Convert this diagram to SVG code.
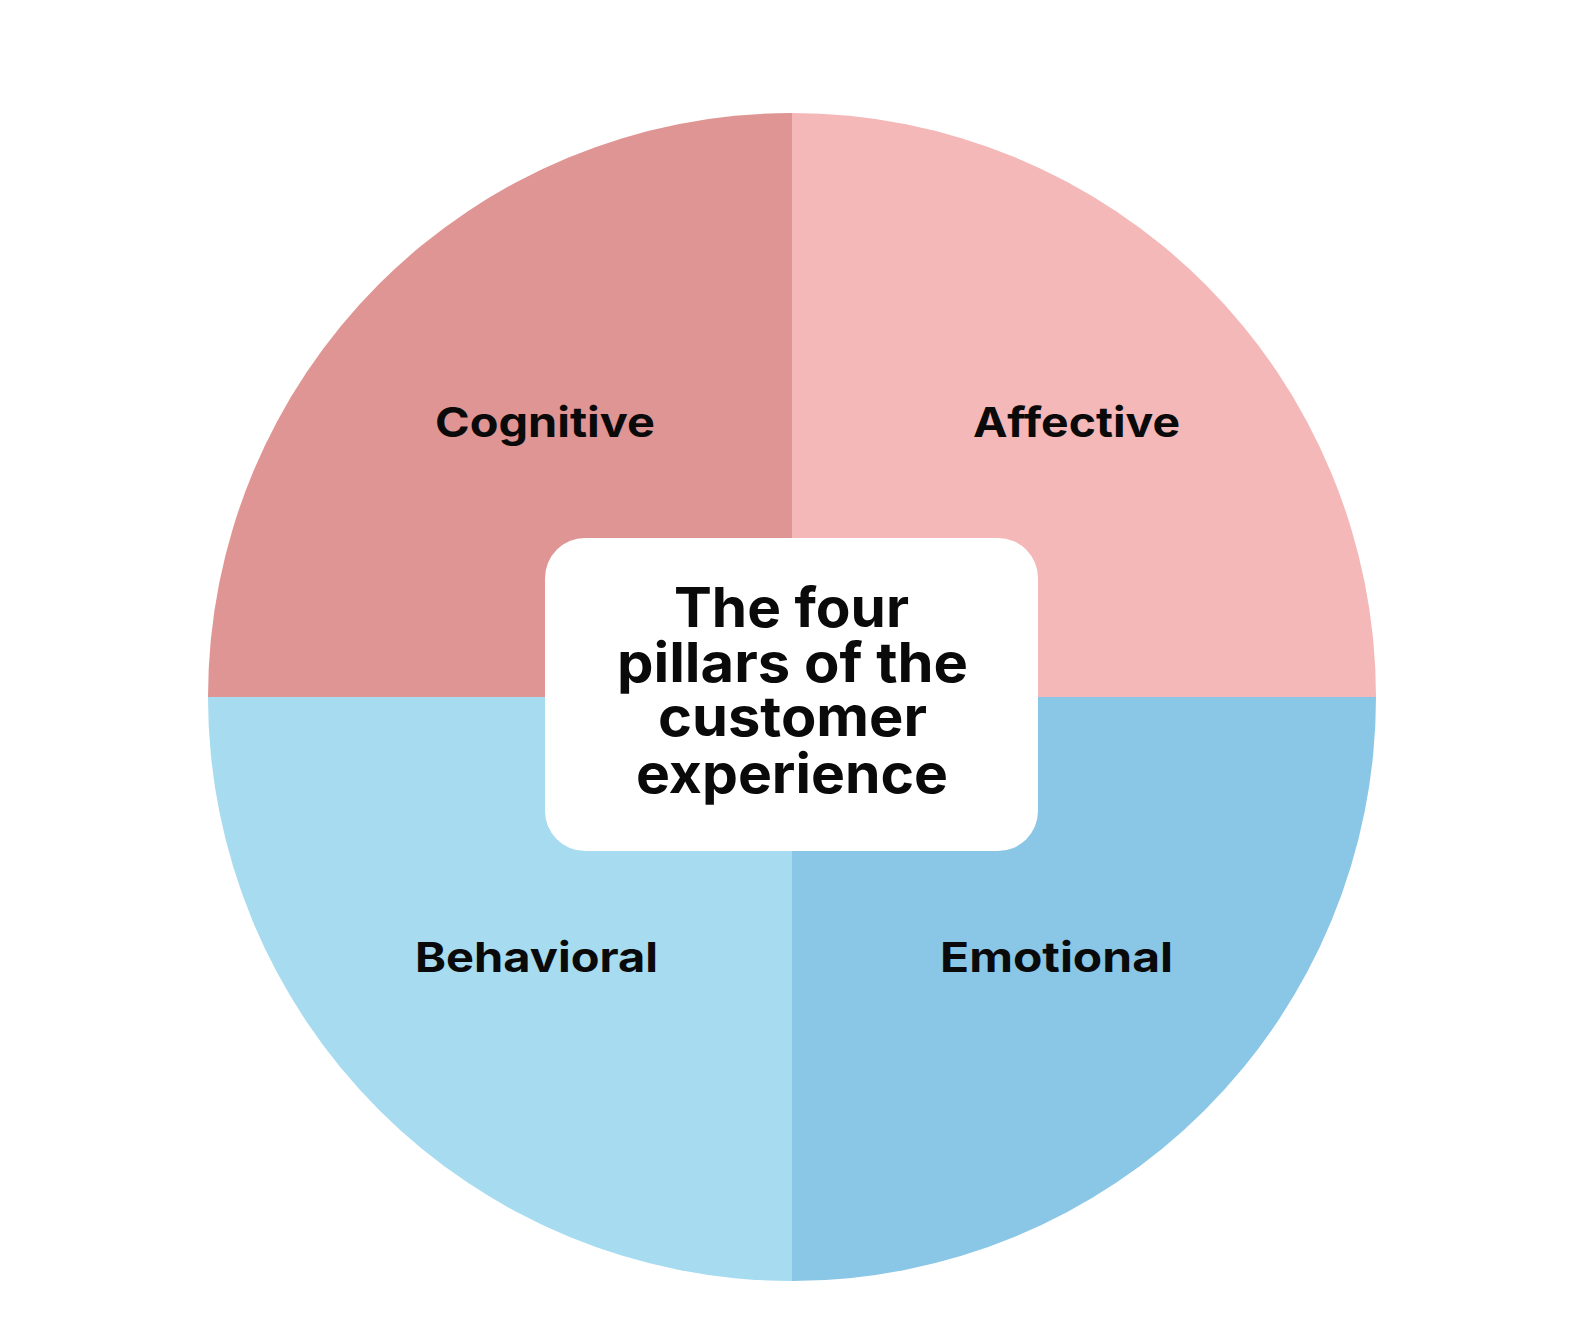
<svg xmlns="http://www.w3.org/2000/svg" width="1576" height="1330" viewBox="0 0 1576 1330">
  <style>
    .lbl { font-family: Inter, "Liberation Sans", sans-serif; font-weight: 700; font-size: 41px; fill: #0a0a0a; text-anchor: middle; }
    .ttl { font-family: Inter, "Liberation Sans", sans-serif; font-weight: 700; font-size: 55px; fill: #0a0a0a; text-anchor: middle; }
  </style>
  <rect width="1576" height="1330" fill="#ffffff"/>
  <g id="cognitive">
    <path d="M792 697 L208 697 A584 584 0 0 1 792 113 Z" fill="#DF9593"/>
    <text class="lbl" x="545" y="437" textLength="220" lengthAdjust="spacingAndGlyphs">Cognitive</text>
  </g>
  <g id="affective">
    <path d="M792 697 L792 113 A584 584 0 0 1 1376 697 Z" fill="#F4B8B8"/>
    <text class="lbl" x="1076.5" y="437" textLength="207" lengthAdjust="spacingAndGlyphs">Affective</text>
  </g>
  <g id="behavioral">
    <path d="M792 697 L792 1281 A584 584 0 0 1 208 697 Z" fill="#A6DBF0"/>
    <text class="lbl" x="536.5" y="972" textLength="243" lengthAdjust="spacingAndGlyphs">Behavioral</text>
  </g>
  <g id="emotional">
    <path d="M792 697 L1376 697 A584 584 0 0 1 792 1281 Z" fill="#8AC6E5"/>
    <text class="lbl" x="1056.5" y="972" textLength="233" lengthAdjust="spacingAndGlyphs">Emotional</text>
  </g>
  <g id="center">
    <rect x="545" y="538" width="493" height="313" rx="40" ry="40" fill="#ffffff"/>
    <text class="ttl" x="791.5" y="627" textLength="235" lengthAdjust="spacingAndGlyphs">The four</text>
    <text class="ttl" x="792.5" y="682" textLength="351" lengthAdjust="spacingAndGlyphs">pillars of the</text>
    <text class="ttl" x="792.5" y="736" textLength="269" lengthAdjust="spacingAndGlyphs">customer</text>
    <text class="ttl" x="792" y="793" textLength="312" lengthAdjust="spacingAndGlyphs">experience</text>
  </g>
  <g id="connectors"/>
</svg>
